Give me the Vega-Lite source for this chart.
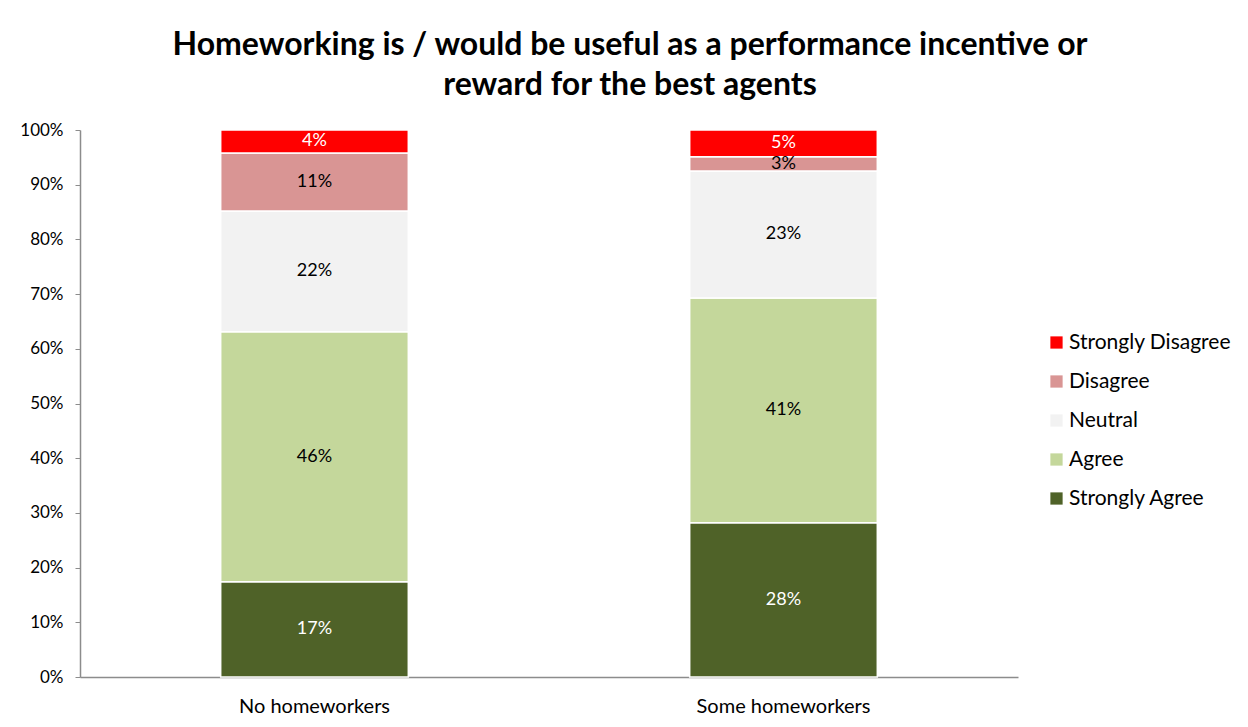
{
  "$schema": "https://vega.github.io/schema/vega-lite/v6.json",
  "width": 938,
  "height": 547,
  "autosize": "none",
  "padding": {"left": 80, "top": 130, "right": 230, "bottom": 50},
  "background": "white",
  "title": {
    "text": ["Homeworking is / would be useful as a performance incentive or", "reward for the best agents"],
    "font": "Lato",
    "fontSize": 32,
    "fontWeight": "bold",
    "color": "#000000",
    "lineHeight": 40,
    "anchor": "middle",
    "dx": 81,
    "offset": 19
  },
  "data": {
    "values": [
      {"group": "No homeworkers", "response": "Strongly Agree", "k": 1, "value": 0.174, "label": "17%"},
      {"group": "No homeworkers", "response": "Agree", "k": 2, "value": 0.457, "label": "46%"},
      {"group": "No homeworkers", "response": "Neutral", "k": 3, "value": 0.221, "label": "22%"},
      {"group": "No homeworkers", "response": "Disagree", "k": 4, "value": 0.106, "label": "11%"},
      {"group": "No homeworkers", "response": "Strongly Disagree", "k": 5, "value": 0.042, "label": "4%"},
      {"group": "Some homeworkers", "response": "Strongly Agree", "k": 1, "value": 0.282, "label": "28%"},
      {"group": "Some homeworkers", "response": "Agree", "k": 2, "value": 0.411, "label": "41%"},
      {"group": "Some homeworkers", "response": "Neutral", "k": 3, "value": 0.232, "label": "23%"},
      {"group": "Some homeworkers", "response": "Disagree", "k": 4, "value": 0.026, "label": "3%"},
      {"group": "Some homeworkers", "response": "Strongly Disagree", "k": 5, "value": 0.049, "label": "5%"}
    ]
  },
  "encoding": {
    "x": {
      "field": "group",
      "type": "nominal",
      "scale": {"paddingInner": 0.6, "paddingOuter": 0.3},
      "axis": {
        "title": null,
        "labelAngle": 0,
        "labelFont": "Lato",
        "labelFontSize": 20,
        "labelColor": "#000000",
        "labelPadding": 19,
        "ticks": false,
        "domainColor": "#8c8c8c",
        "domainWidth": 1.5
      }
    },
    "y": {
      "field": "value",
      "type": "quantitative",
      "stack": "zero",
      "scale": {"domain": [0, 1]},
      "axis": {
        "title": null,
        "format": ".0%",
        "values": [0, 0.1, 0.2, 0.3, 0.4, 0.5, 0.6, 0.7, 0.8, 0.9, 1],
        "grid": false,
        "labelFont": "Lato",
        "labelFontSize": 17,
        "labelColor": "#000000",
        "labelPadding": 12,
        "tickColor": "#8c8c8c",
        "tickSize": 5,
        "domainColor": "#8c8c8c",
        "domainWidth": 1.5
      }
    },
    "order": {"field": "k", "type": "quantitative"}
  },
  "layer": [
    {
      "mark": {"type": "bar", "stroke": "white", "strokeWidth": 1.5},
      "encoding": {
        "color": {
          "field": "response",
          "type": "nominal",
          "scale": {
            "domain": ["Strongly Disagree", "Disagree", "Neutral", "Agree", "Strongly Agree"],
            "range": ["#FF0000", "#D99594", "#F2F2F2", "#C4D79B", "#4F6228"]
          },
          "legend": {
            "title": null,
            "orient": "none",
            "legendX": 966,
            "legendY": 202,
            "symbolType": "square",
            "symbolSize": 150,
            "symbolStrokeWidth": 0,
            "labelFont": "Lato",
            "labelFontSize": 21,
            "labelColor": "#000000",
            "labelLimit": 300,
            "rowPadding": 17,
            "labelOffset": 2
          }
        }
      }
    },
    {
      "mark": {"type": "text", "font": "Lato", "fontSize": 18},
      "encoding": {
        "y": {"field": "value", "type": "quantitative", "stack": "zero", "bandPosition": 0.5},
        "text": {"field": "label"},
        "color": {
          "condition": {"test": "datum.k == 1 || datum.k == 5", "value": "white"},
          "value": "black"
        }
      }
    }
  ],
  "config": {
    "view": {"stroke": null}
  }
}
